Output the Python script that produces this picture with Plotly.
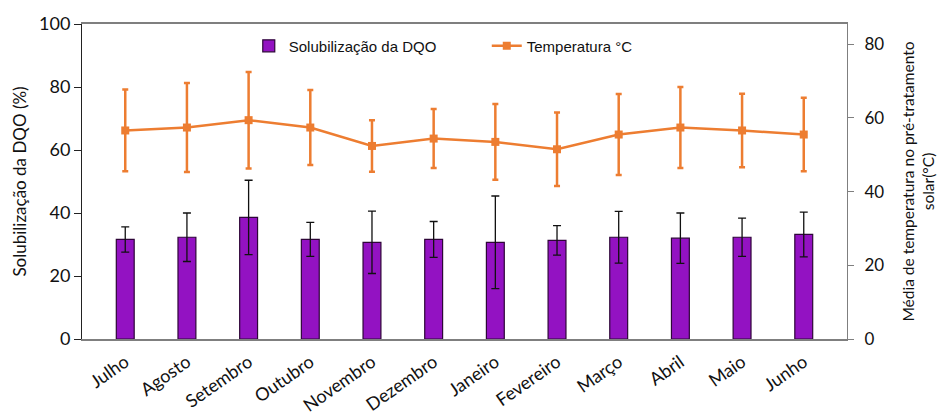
import plotly.graph_objects as go

months = ["Julho", "Agosto", "Setembro", "Outubro", "Novembro", "Dezembro",
          "Janeiro", "Fevereiro", "Março", "Abril", "Maio", "Junho"]
solub = [31.6, 32.3, 38.6, 31.6, 30.7, 31.6, 30.7, 31.3, 32.3, 32.0, 32.3, 33.2]
solub_err = [4.0, 7.7, 11.8, 5.4, 9.9, 5.7, 14.7, 4.7, 8.2, 8.0, 6.1, 7.1]
temp = [56.6, 57.4, 59.4, 57.4, 52.4, 54.4, 53.5, 51.5, 55.5, 57.4, 56.6, 55.5]
temp_err = [11.1, 12.1, 13.1, 10.2, 7.0, 8.0, 10.3, 10.0, 11.0, 11.0, 10.0, 10.0]
left_ticks = [0, 20, 40, 60, 80, 100]
right_ticks = [0, 20, 40, 60, 80]

CAL = "Lato, 'Open Sans', sans-serif"
ARIAL = "'Liberation Sans', Arial, sans-serif"

fig = go.Figure()
fig.add_trace(go.Bar(
    x=months, y=solub, name="Solubilização da DQO",
    marker=dict(color="#9312C2", line=dict(color="#2E0638", width=1.2)),
    width=0.29,
    error_y=dict(type="data", array=solub_err, color="#111111", thickness=1.3, width=4),
    yaxis="y",
))
fig.add_trace(go.Scatter(
    x=months, y=temp, name="Temperatura °C", mode="lines+markers",
    line=dict(color="#ED7D31", width=2.5),
    marker=dict(symbol="square", size=8, color="#ED7D31"),
    error_y=dict(type="data", array=temp_err, color="#ED7D31", thickness=2.5, width=3),
    yaxis="y2",
))

# page body has an 8px margin, so the figure is sized/offset to compensate
fig.update_layout(
    width=938, height=407,
    margin=dict(l=74, r=99, t=16, b=76, autoexpand=False),
    plot_bgcolor="white", paper_bgcolor="white",
    showlegend=True,
    legend=dict(orientation="h", x=0.218, y=0.93, xanchor="left", yanchor="middle",
                font=dict(family=ARIAL, size=15, color="#111111"),
                entrywidth=193, entrywidthmode="pixels",
                bgcolor="rgba(0,0,0,0)", traceorder="normal"),
    bargap=0.7,
    xaxis=dict(
        tickangle=-35, tickfont=dict(family=CAL, size=18, color="#111111"),
        showline=True, linecolor="#7F7F7F", linewidth=1.5, mirror=True,
        ticks="", showgrid=False, automargin=False, ticklabelstandoff=4,
    ),
    yaxis=dict(
        range=[0, 100], tickvals=left_ticks, ticks="outside", ticklen=7,
        tickcolor="#222222", showline=True, linecolor="#222222", linewidth=1,
        showgrid=False, zeroline=False, automargin=False,
        tickfont=dict(family=CAL, size=18, color="#111111"),
        title=dict(text="Solubilização da DQO (%)", standoff=8,
                   font=dict(family=CAL, size=17, color="#111111")),
    ),
    yaxis2=dict(
        range=[0, 85.5], tickvals=right_ticks, ticks="outside", ticklen=6,
        tickcolor="#7F7F7F", overlaying="y", side="right",
        showline=True, linecolor="#7F7F7F", linewidth=1.2,
        showgrid=False, zeroline=False, automargin=False, ticklabelstandoff=7,
        tickfont=dict(family=CAL, size=17, color="#111111"),
        title=dict(text="Média de temperatura no pré-tratamento<br>solar(°C)", standoff=19,
                   font=dict(family=CAL, size=15.5, color="#111111")),
    ),
)

fig.write_html("out.html")
